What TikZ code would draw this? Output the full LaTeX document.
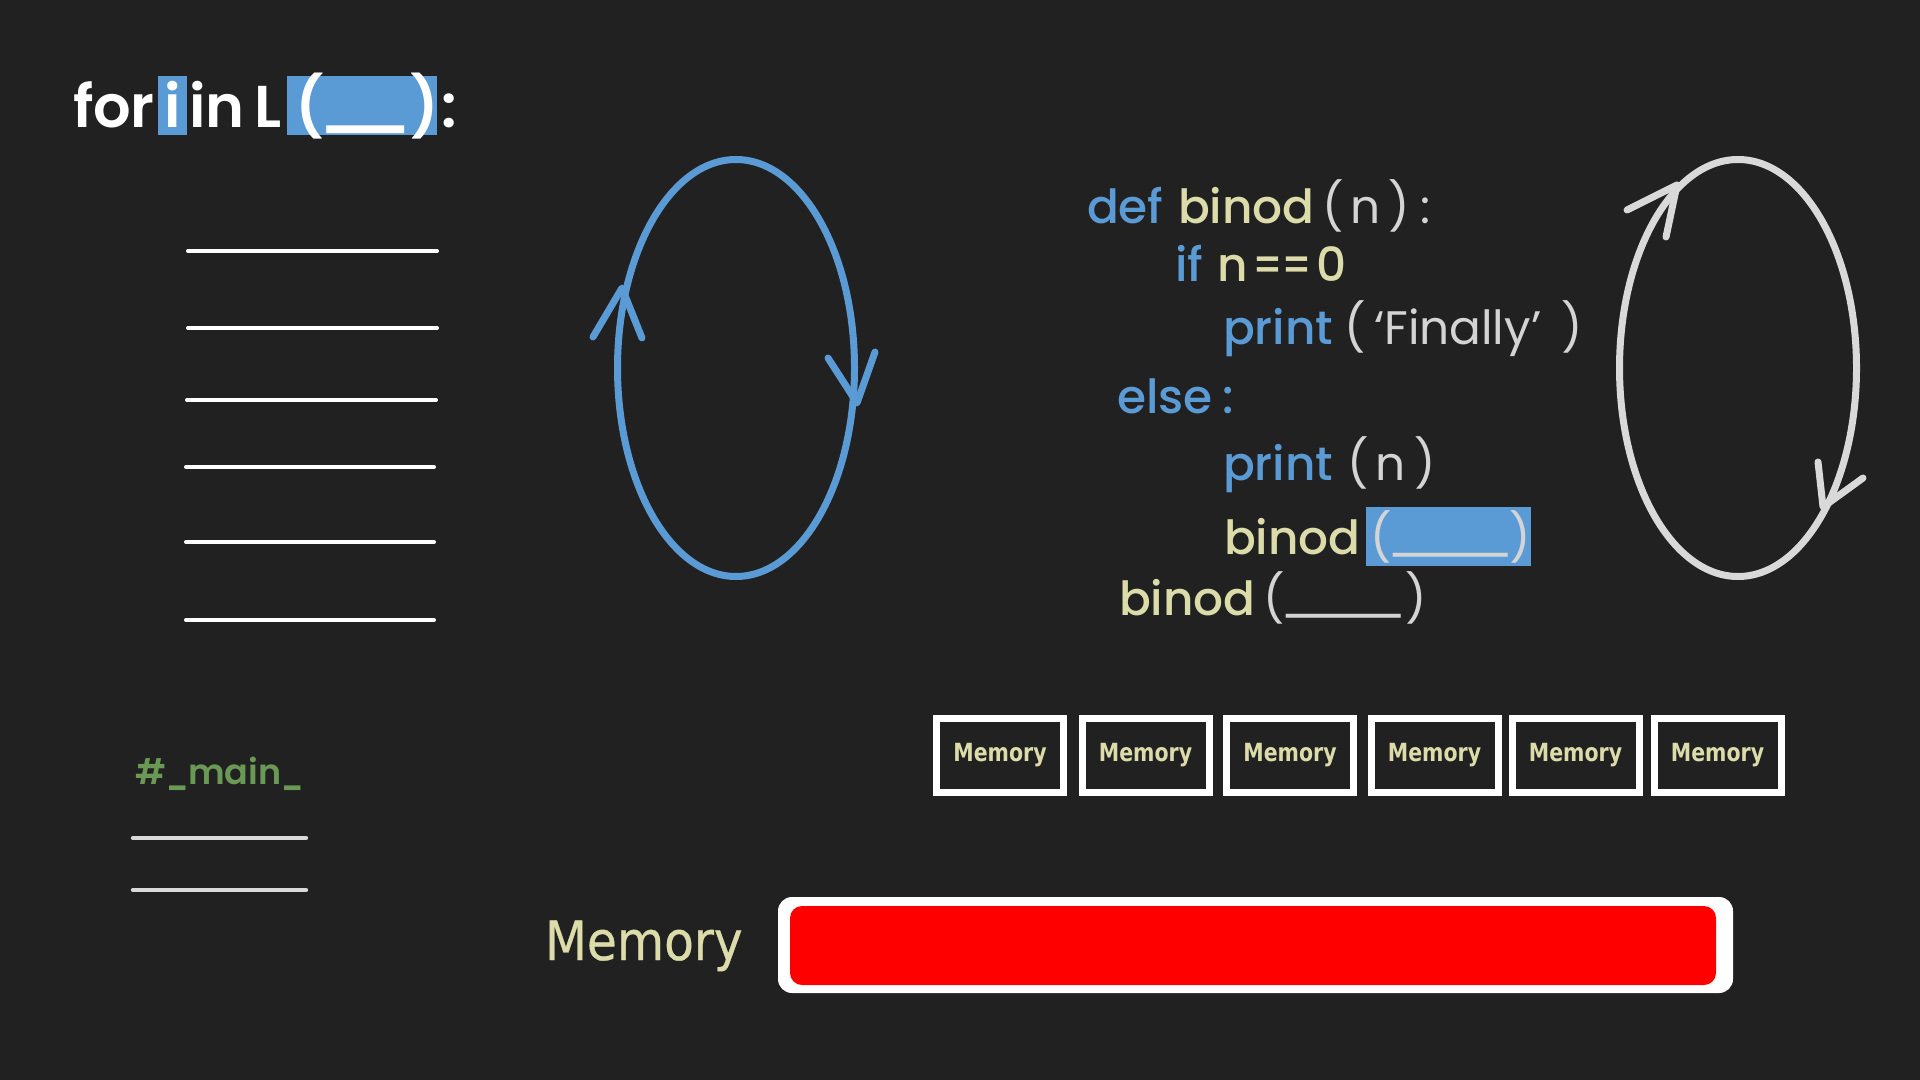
\documentclass[tikz,border=0pt]{standalone}
\usepackage{fontspec}
\setmainfont{Poppins}
\IfFontExistsTF{Poppins Medium}
  {\newfontfamily\codefont{Poppins Medium}}
  {\newfontfamily\codefont[FakeBold=3]{Poppins}}
\IfFontExistsTF{Poppins SemiBold}
  {\newfontfamily\mainfont{Poppins SemiBold}}
  {\newfontfamily\mainfont[FakeBold=3]{Poppins}}
\newfontfamily\parfont{Poppins}
\newfontfamily\memfont[FakeStretch=0.82]{DejaVu Sans}
\newfontfamily\memlab[FakeStretch=0.9,FakeBold=0.6]{DejaVu Sans}
\newcommand\ubar[2]{\raisebox{#2}{\scalebox{#1}[1]{\_}}}
\definecolor{bg}{HTML}{212121}
\definecolor{kwblue}{HTML}{5B9BD5}
\definecolor{fnyel}{HTML}{DCDCAA}
\definecolor{pgray}{HTML}{D4D4D4}
\definecolor{cgreen}{HTML}{6A9955}
\definecolor{egray}{HTML}{D9D9D9}
\tikzset{
  tok/.style={anchor=base west, inner sep=0pt, outer sep=0pt},
  code/.style={tok, font=\codefont\fontsize{23.5pt}{28pt}\selectfont},
  kw/.style={code, text=kwblue},
  fn/.style={code, text=fnyel},
  pa/.style={tok, text=pgray, font=\parfont\fontsize{23.5pt}{28pt}\selectfont},
  ttl/.style={tok, text=white, font=\mainfont\fontsize{29.5pt}{34pt}\selectfont},
  wline/.style={draw=white, line width=2pt, line cap=round},
  gline/.style={draw=egray, line width=2.2pt, line cap=round},
  bloop/.style={draw=kwblue, line width=3.5pt, line cap=round, line join=round},
  wloop/.style={draw=egray, line width=3.5pt, line cap=round, line join=round},
  membox/.style={draw=white, line width=3.5pt, minimum width=63.5pt, minimum height=37pt,
    inner sep=0pt, text=fnyel, font=\memfont\bfseries\fontsize{12.5pt}{15pt}\selectfont},
}
\begin{document}
\begin{tikzpicture}[x=0.5pt,y=-0.5pt]
\useasboundingbox (0,0) rectangle (1920,1080);
\fill[bg] (0,0) rectangle (1920,1080);

% title
\fill[kwblue] (158,76) rectangle (187,135);
\fill[kwblue] (287,76) rectangle (437,135);
\node[ttl] (t1) at (73,128) {for};
\node[ttl, anchor=base] (t2) at (172.5,128) {i};
\node[ttl] (t3) at (189,128) {in};
\node[ttl] (t4) at (254,128) {L};
\node[ttl] (t5) at (295,128) {(};
\node[ttl] (t6) at (312,128) {\ubar{2.25}{2pt}};
\node[ttl] (t7) at (410,128) {)};
\node[ttl] (t8) at (441,128) {:};

% left lines
\draw[wline] (188,251) -- (437,251);
\draw[wline] (188,328) -- (437,328);
\draw[wline] (187,400) -- (436,400);
\draw[wline] (186,467) -- (434,467);
\draw[wline] (186,542) -- (434,542);
\draw[wline] (186,620) -- (434,620);

% main
\node[tok, text=cgreen, font=\mainfont\fontsize{17.5pt}{22pt}\selectfont] (mn) at (135,784)
  {\#\scalebox{0.8}[1]{\_}main\scalebox{0.8}[1]{\_}};
\draw[gline] (133,838) -- (306,838);
\draw[gline] (133,890) -- (306,890);

% blue loop
\draw[bloop] (736,368) ellipse [x radius=59.25pt, y radius=104.25pt];
\draw[bloop] (593,337) -- (622,288) -- (642,338);
\draw[bloop] (828,358) -- (857,403) -- (875,352);

% white loop
\draw[wloop] (1738,368) ellipse [x radius=59.25pt, y radius=104.25pt];
\draw[wloop] (1627,210) -- (1677,185) -- (1666,237);
\draw[wloop] (1818,462) -- (1823,507) -- (1863,478);

% code
\node[kw] (c1a) at (1087,224) {def};
\node[fn] (c1b) at (1178,224) {binod};
\node[pa] (c1c) at (1322,224) {(};
\node[pa] (c1d) at (1350,224) {n};
\node[pa] (c1e) at (1388,224) {)};
\node[pa] (c1f) at (1420,224) {:};

\node[kw] (c2a) at (1175,282) {if};
\node[fn] (c2b) at (1217,282) {n};
\node[fn] (c2c) at (1252,282) {\scalebox{0.85}[1]{=\kern-0.04em=}};
\node[fn] (c2d) at (1316,282) {0};

\node[kw] (c3a) at (1223,344) {print};
\node[pa] (c3b) at (1344,344) {(};
\node[pa] (c3c) at (1374,344) {‘Finally’};
\node[pa] (c3d) at (1561,344) {)};

\node[kw] (c4a) at (1117,413) {else};
\node[kw] (c4b) at (1222,413) {:};

\node[kw] (c5a) at (1223,480) {print};
\node[pa] (c5b) at (1347,480) {(};
\node[pa] (c5c) at (1375,480) {n};
\node[pa] (c5d) at (1414,480) {)};

\fill[kwblue] (1366,507) rectangle (1531,566);
\node[fn] (c6a) at (1224,554) {binod};
\node[pa] (c6b) at (1370,554) {\rlap{(}\ubar{4.6}{1.5pt}};
\node[pa] (c6d) at (1509,554) {)};

\node[fn] (c7a) at (1119,615) {binod};
\node[pa] (c7b) at (1263,615) {\rlap{(}\ubar{4.6}{1.5pt}};
\node[pa] (c7d) at (1405,615) {)};

% memory boxes
\node[membox] (m1) at (1000,755.5) {\raisebox{-2pt}{Memory}};
\node[membox] (m2) at (1145.5,755.5) {\raisebox{-2pt}{Memory}};
\node[membox] (m3) at (1290,755.5) {\raisebox{-2pt}{Memory}};
\node[membox] (m4) at (1434.5,755.5) {\raisebox{-2pt}{Memory}};
\node[membox] (m5) at (1575.5,755.5) {\raisebox{-2pt}{Memory}};
\node[membox] (m6) at (1717.5,755.5) {\raisebox{-2pt}{Memory}};

% memory bar
\node[tok, text=fnyel, font=\memlab\fontsize{27pt}{32pt}\selectfont] (ml) at (545,960) {Memory};
\fill[white, rounded corners=7pt] (778,897) rectangle (1733,993);
\fill[red, rounded corners=6pt] (790,906) rectangle (1716,985);
\end{tikzpicture}
\end{document}
